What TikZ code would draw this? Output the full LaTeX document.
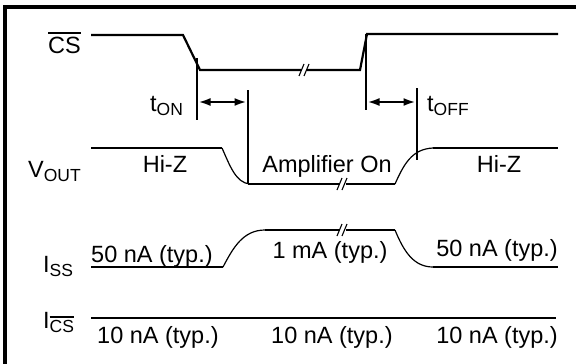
\documentclass[tikz,border=0pt]{standalone}
\usepackage{fontspec}
\setmainfont{Liberation Sans}
\usetikzlibrary{arrows.meta}
\newcommand\subs[1]{\raisebox{-4.5pt}{\fontsize{17.5}{18}\selectfont #1}}
\newcommand\ovl[2]{\setbox0\hbox{#2}\rlap{\rule[\dimexpr\ht0+#1\relax]{\wd0}{1.4pt}}\box0}
\begin{document}
\begin{tikzpicture}[x=1pt,y=-1pt,
  wave/.style={line width=2.2pt},
  curve/.style={line width=1.2pt},
  mark2/.style={line width=1.1pt},
  lbl/.style={font=\fontsize{23.5}{26}\selectfont, inner sep=0pt},
  timing/.style={line width=2.2pt,{Latex[length=12pt,width=8pt]}-{Latex[length=12pt,width=8pt]}}]
\useasboundingbox (0,0) rectangle (576,364);
\draw[line width=3.2pt] (5,364) -- (5,7) -- (576,7);
% CS
\node[lbl, anchor=base west] (cs) at (48,53) {\ovl{3pt}{CS}};
\coordinate (c1) at (91,35);
\coordinate (c2) at (183,35);
\coordinate (c3) at (200,70);
\coordinate (c4) at (301,70);
\coordinate (c5) at (307,70);
\coordinate (c6) at (360,70);
\coordinate (c7) at (367,34);
\coordinate (c8) at (558,34);
\draw[wave] (c1) -- (c2) -- (c3) -- (c4);
\draw[wave] (c5) -- (c6) -- (c7) -- (c8);
\draw[mark2] (299,76) -- (304,64) (304,76) -- (309,64);
% tON
\coordinate (onA1) at (197,58);
\coordinate (onA2) at (197,120);
\coordinate (onB1) at (248,90);
\coordinate (onB2) at (248,184);
\draw[wave] (onA1) -- (onA2);
\draw[wave] (onB1) -- (onB2);
\draw[timing] (198.5,102) -- (246.5,102);
\node[lbl, anchor=base west] (ton) at (150,111) {t\subs{ON}};
% tOFF
\coordinate (offA1) at (366,34);
\coordinate (offA2) at (366,110);
\coordinate (offB1) at (417,88);
\coordinate (offB2) at (417,160);
\draw[wave] (offA1) -- (offA2);
\draw[wave] (offB1) -- (offB2);
\draw[timing] (367.5,102) -- (415.5,102);
\node[lbl, anchor=base west] (toff) at (427,111) {t\subs{OFF}};
% VOUT
\node[lbl, anchor=base west] (vout) at (28,177) {V\subs{OUT}};
\draw[wave] (91,148) -- (222,148);
\draw[curve] (222,148) .. controls (230,166) and (236,183) .. (250,184);
\draw[wave] (248,184) -- (339,184);
\draw[wave] (346,184) -- (395,184);
\draw[mark2] (337,190) -- (342,178) (342,190) -- (347,178);
\draw[curve] (395,184) .. controls (404,164) and (412,149) .. (433,148);
\draw[wave] (433,148) -- (558,148);
\node[lbl, anchor=base] (hz1) at (165,172) {Hi-Z};
\node[lbl, anchor=base] (amp) at (327,172) {Amplifier On};
\node[lbl, anchor=base] (hz2) at (499,172) {Hi-Z};
% ISS
\node[lbl, anchor=base west] (iss) at (43,272) {I\subs{SS}};
\draw[wave] (91,267) -- (223,267);
\draw[curve] (223,267) .. controls (233,248) and (243,230) .. (265,230);
\draw[wave] (265,230) -- (339,230);
\draw[wave] (346,230) -- (395,230);
\draw[mark2] (337,236) -- (342,224) (342,236) -- (347,224);
\draw[curve] (395,230) .. controls (404,252) and (414,267) .. (433,267);
\draw[wave] (433,267) -- (558,267);
\node[lbl, anchor=base west] (s1) at (91,262) {50 nA (typ.)};
\node[lbl, anchor=base] (s2) at (330,258) {1 mA (typ.)};
\node[lbl, anchor=base east] (s3) at (558,256) {50 nA (typ.)};
% ICS
\node[lbl, anchor=base west] (ics) at (43,328) {I\subs{\ovl{2.5pt}{CS}}};
\draw[wave] (91,318) -- (556,318);
\node[lbl, anchor=base west] (t1) at (97,343) {10 nA (typ.)};
\node[lbl, anchor=base west] (t2) at (271,343) {10 nA (typ.)};
\node[lbl, anchor=base east] (t3) at (558,343) {10 nA (typ.)};
\end{tikzpicture}
\end{document}
